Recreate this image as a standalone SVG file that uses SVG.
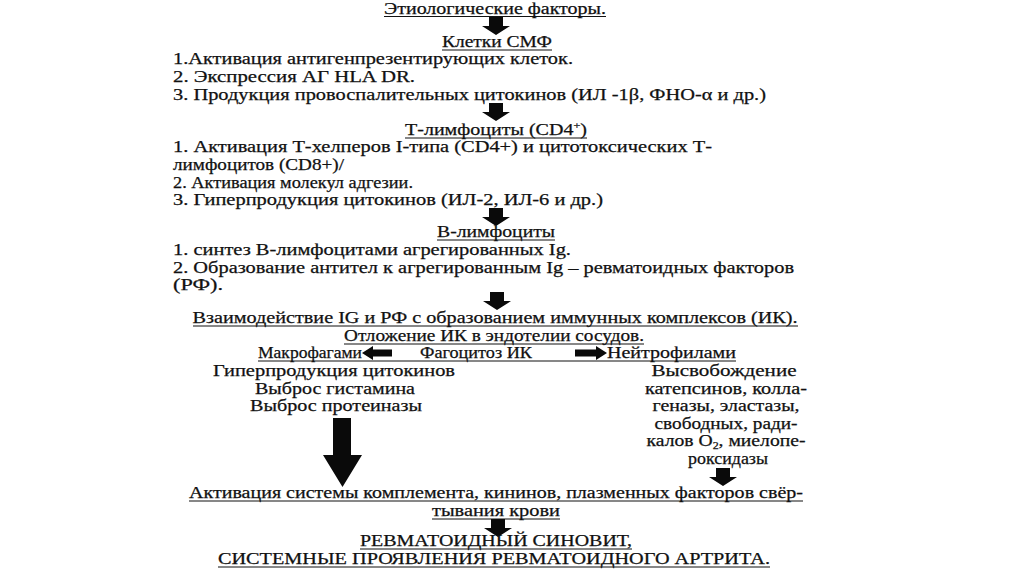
<svg xmlns="http://www.w3.org/2000/svg" width="1024" height="574" viewBox="0 0 1024 574" font-family="'Liberation Serif','Times New Roman',serif">
<style>
text{font-family:"Liberation Serif","Times New Roman",serif;font-size:16.5px;fill:#111;stroke:#111;stroke-width:0.25}
.c{text-anchor:middle}
.u{stroke:#111;stroke-width:1.2}
.ar{fill:#0a0a0a}
</style>
<defs>
<path id="dn" d="M-7,0 H7 V9 H14 L0,18 L-14,9 H-7 Z"/>
</defs>
<rect width="1024" height="574" fill="#fff"/>

<g id="connectors" class="ar">
<use href="#dn" x="496" y="17"/>
<use href="#dn" x="496" y="103"/>
<use href="#dn" x="496" y="208"/>
<use href="#dn" x="497" y="292"/>
<use href="#dn" x="723" y="468"/>
<use href="#dn" x="498" y="519"/>
<path d="M333,418 H351 V455 H362 L342.5,487 L323,455 H333 Z"/>
<path d="M362,353 L373,346 V349.5 H392 V356.5 H373 V360 Z"/>
<path d="M607,353 L596,346 V349.5 H575 V356.5 H596 V360 Z"/>
</g>

<g id="n-etiology">
<text class="c" x="495" y="14" font-size="15.5" textLength="222" lengthAdjust="spacingAndGlyphs">Этиологические факторы.</text>
<line class="u" x1="384" y1="16.5" x2="606" y2="16.5"/>
</g>

<g id="n-smf">
<text class="c" x="497" y="47" textLength="110" lengthAdjust="spacingAndGlyphs">Клетки СМФ</text>
<line class="u" x1="442" y1="50" x2="552" y2="50"/>
<text x="173" y="64" textLength="400" lengthAdjust="spacingAndGlyphs">1.Активация антигенпрезентирующих клеток.</text>
<text x="173" y="82" textLength="242" lengthAdjust="spacingAndGlyphs">2. Экспрессия АГ HLA DR.</text>
<text x="173" y="100" textLength="593" lengthAdjust="spacingAndGlyphs">3. Продукция провоспалительных цитокинов (ИЛ -1β, ФНО-α и др.)</text>
</g>

<g id="n-tlymph">
<text class="c" x="496" y="135" textLength="182" lengthAdjust="spacingAndGlyphs">Т-лимфоциты (CD4<tspan dy="-6" font-size="10">+</tspan><tspan dy="6">)</tspan></text>
<line class="u" x1="405" y1="138" x2="587" y2="138"/>
<text x="173" y="152" textLength="539" lengthAdjust="spacingAndGlyphs">1. Активация Т-хелперов I-типа (CD4+) и цитотоксических Т-</text>
<text x="173" y="170" textLength="171" lengthAdjust="spacingAndGlyphs">лимфоцитов (CD8+)/</text>
<text x="173" y="188" textLength="240" lengthAdjust="spacingAndGlyphs">2. Активация молекул адгезии.</text>
<text x="173" y="205" textLength="430" lengthAdjust="spacingAndGlyphs">3. Гиперпродукция цитокинов (ИЛ-2, ИЛ-6 и др.)</text>
</g>

<g id="n-blymph">
<text class="c" x="496" y="237" textLength="118" lengthAdjust="spacingAndGlyphs">В-лимфоциты</text>
<line class="u" x1="437" y1="240" x2="555" y2="240"/>
<text x="173" y="255" textLength="398" lengthAdjust="spacingAndGlyphs">1. синтез В-лимфоцитами агрегированных Ig.</text>
<text x="173" y="273" textLength="621" lengthAdjust="spacingAndGlyphs">2. Образование антител к агрегированным Ig – ревматоидных факторов</text>
<text x="173" y="290" textLength="50" lengthAdjust="spacingAndGlyphs">(РФ).</text>
</g>

<g id="n-complex">
<text class="c" x="495" y="323" textLength="605" lengthAdjust="spacingAndGlyphs">Взаимодействие IG и РФ с образованием иммунных комплексов (ИК).</text>
<line class="u" x1="193" y1="326" x2="798" y2="326"/>
<text class="c" x="494" y="341" textLength="300" lengthAdjust="spacingAndGlyphs">Отложение ИК в эндотелии сосудов.</text>
<line class="u" x1="344" y1="344" x2="644" y2="344"/>
</g>

<g id="n-phago">
<text x="258" y="358" textLength="104" lengthAdjust="spacingAndGlyphs">Макрофагами</text>
<text x="420" y="358" textLength="112" lengthAdjust="spacingAndGlyphs">Фагоцитоз ИК</text>
<text x="607" y="358" textLength="129" lengthAdjust="spacingAndGlyphs">Нейтрофилами</text>
<line class="u" x1="258" y1="361" x2="736" y2="361"/>
</g>

<g id="n-macro">
<text class="c" x="334" y="376" textLength="242" lengthAdjust="spacingAndGlyphs">Гиперпродукция цитокинов</text>
<text class="c" x="335" y="394" textLength="160" lengthAdjust="spacingAndGlyphs">Выброс гистамина</text>
<text class="c" x="336" y="411" textLength="172" lengthAdjust="spacingAndGlyphs">Выброс протеиназы</text>
</g>

<g id="n-neutro">
<text class="c" x="724" y="376" textLength="145" lengthAdjust="spacingAndGlyphs">Высвобождение</text>
<text class="c" x="726" y="394" textLength="162" lengthAdjust="spacingAndGlyphs">катепсинов, колла-</text>
<text class="c" x="726" y="411" textLength="147" lengthAdjust="spacingAndGlyphs">геназы, эластазы,</text>
<text class="c" x="726" y="429" textLength="143" lengthAdjust="spacingAndGlyphs">свободных, ради-</text>
<text class="c" x="726" y="446" textLength="159" lengthAdjust="spacingAndGlyphs">калов O<tspan dy="3" font-size="10">2</tspan><tspan dy="-3">, миелопе-</tspan></text>
<text class="c" x="728" y="464" textLength="80" lengthAdjust="spacingAndGlyphs">роксидазы</text>
</g>

<g id="n-activation">
<text class="c" x="496" y="498" textLength="614" lengthAdjust="spacingAndGlyphs">Активация системы комплемента, кининов, плазменных факторов свёр-</text>
<line class="u" x1="189" y1="501" x2="803" y2="501"/>
<text class="c" x="496" y="516" textLength="128" lengthAdjust="spacingAndGlyphs">тывания крови</text>
<line class="u" x1="432" y1="519" x2="560" y2="519"/>
</g>

<g id="n-result">
<text class="c" x="496" y="546" textLength="272" lengthAdjust="spacingAndGlyphs">РЕВМАТОИДНЫЙ СИНОВИТ,</text>
<line class="u" x1="360" y1="549" x2="632" y2="549"/>
<text class="c" x="494" y="564" textLength="552" lengthAdjust="spacingAndGlyphs">СИСТЕМНЫЕ ПРОЯВЛЕНИЯ РЕВМАТОИДНОГО АРТРИТА.</text>
<line class="u" x1="218" y1="567" x2="770" y2="567"/>
</g>
</svg>
